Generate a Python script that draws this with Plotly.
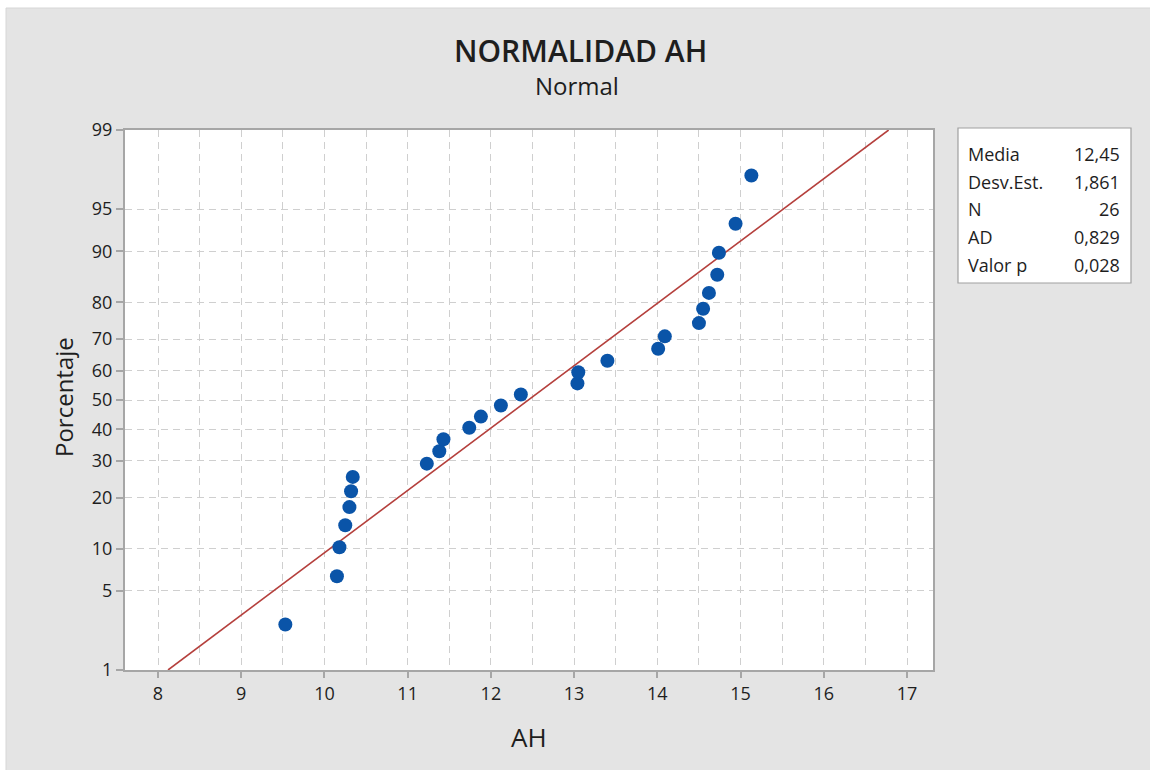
import plotly.graph_objects as go
from statistics import NormalDist

# ---------------- data ----------------
ah_values = [9.53, 10.15, 10.18, 10.25, 10.30, 10.32, 10.34, 11.23, 11.38, 11.43,
             11.74, 11.88, 12.12, 12.36, 13.04, 13.05, 13.40, 14.01, 14.09, 14.50,
             14.55, 14.62, 14.72, 14.74, 14.94, 15.13]
pct_ticks = [1, 5, 10, 20, 30, 40, 50, 60, 70, 80, 90, 95, 99]
x_ticks = [8, 9, 10, 11, 12, 13, 14, 15, 16, 17]
stat_labels = ["Media", "Desv.Est.", "N", "AD", "Valor p"]
stat_values = ["12,45", "1,861", "26", "0,829", "0,028"]
mean_fit = 12.45
sd_fit = 1.861

nd = NormalDist()
n = len(ah_values)
xs = sorted(ah_values)
# Minitab median-rank plotting positions
zs = [nd.inv_cdf((i + 1 - 0.3) / (n + 0.4)) for i in range(n)]
pct_z = [nd.inv_cdf(p / 100) for p in pct_ticks]
line_z = [pct_z[0], pct_z[-1]]
line_x = [mean_fit + sd_fit * z for z in line_z]

# ---------------- layout geometry (pixels) ----------------
W, H = 1150, 770
L, R, T, B = 125, 933, 130, 670
pw, ph = R - L, B - T


def px(x):
    return (x - L) / pw


def py(y):
    return (B - y) / ph


FONT = "Open Sans"
TXT = "#1e1e1e"
GRID = "#cfcfcf"
AXIS = "#a6a6a6"

fig = go.Figure()
fig.add_trace(go.Scatter(x=line_x, y=line_z, mode="lines",
                         line=dict(color="#b5403d", width=1.6),
                         hoverinfo="skip", showlegend=False))
fig.add_trace(go.Scatter(x=xs, y=zs, mode="markers",
                         marker=dict(color="#0a54a8", size=14, line=dict(width=0)),
                         showlegend=False))

x_min = 8 - (158 - L) / 83.22
x_max = 17 + (R - 907) / 83.22

tickfont = dict(family=FONT, size=18, color=TXT, weight=500)

fig.update_xaxes(range=[x_min, x_max], tickvals=x_ticks, ticktext=[str(v) for v in x_ticks],
                 showgrid=True, gridcolor=GRID, gridwidth=1.3, griddash="7px,5px",
                 minor=dict(dtick=0.5, tick0=0, showgrid=True, gridcolor=GRID, gridwidth=1.3,
                            griddash="7px,5px", ticks=""),
                 showline=True, linecolor=AXIS, linewidth=2, mirror=True,
                 ticks="outside", ticklen=6, tickcolor=AXIS, tickwidth=1.5,
                 tickfont=tickfont, zeroline=False)
fig.update_yaxes(range=line_z, tickvals=pct_z, ticktext=[str(p) for p in pct_ticks],
                 showgrid=True, gridcolor=GRID, gridwidth=1.3, griddash="7px,5px",
                 showline=True, linecolor=AXIS, linewidth=2, mirror=True,
                 ticks="outside", ticklen=7, tickcolor=AXIS, tickwidth=1.5,
                 tickfont=tickfont, zeroline=False)

shapes = [
    # grey page with thin white top/left border
    dict(type="rect", xref="paper", yref="paper", layer="below",
         x0=px(6), x1=px(W + 5), y0=py(H + 5), y1=py(8),
         fillcolor="#e4e4e4", line=dict(color="#d6d6d6", width=1)),
    dict(type="rect", xref="paper", yref="paper", layer="below",
         x0=0, x1=1, y0=0, y1=1, fillcolor="white", line=dict(width=0)),
    # stats box
    dict(type="rect", xref="paper", yref="paper",
         x0=px(958), x1=px(1131), y0=py(283), y1=py(128),
         fillcolor="white", line=dict(color="#a0a0a0", width=1.2)),
]

annotations = [
    dict(text="NORMALIDAD AH", x=px(580), y=py(50), xref="paper", yref="paper",
         showarrow=False, xanchor="center", yanchor="middle",
         font=dict(family=FONT, size=30, color=TXT, weight=600)),
    dict(text="Normal", x=px(577), y=py(85), xref="paper", yref="paper",
         showarrow=False, xanchor="center", yanchor="middle",
         font=dict(family=FONT, size=24, color=TXT, weight=500)),
    dict(text="AH", x=px(529), y=py(737), xref="paper", yref="paper",
         showarrow=False, xanchor="center", yanchor="middle",
         font=dict(family=FONT, size=26, color=TXT, weight=500)),
    dict(text="Porcentaje", x=px(63), y=py(397), xref="paper", yref="paper",
         showarrow=False, xanchor="center", yanchor="middle", textangle=-90,
         font=dict(family=FONT, size=24, color=TXT, weight=500)),
]
row_y = [154, 182, 209, 237, 265]
for lab, val, yy in zip(stat_labels, stat_values, row_y):
    annotations.append(dict(text=lab, x=px(966), y=py(yy), xref="paper", yref="paper",
                            showarrow=False, xanchor="left", yanchor="middle",
                            font=dict(family=FONT, size=18, color=TXT, weight=500)))
    annotations.append(dict(text=val, x=px(1122), y=py(yy), xref="paper", yref="paper",
                            showarrow=False, xanchor="right", yanchor="middle",
                            font=dict(family=FONT, size=18, color=TXT, weight=500)))

fig.update_layout(width=W, height=H, autosize=False,
                  margin=dict(l=L, r=W - R, t=T, b=H - B, pad=0),
                  paper_bgcolor="white", plot_bgcolor="white",
                  shapes=shapes, annotations=annotations, showlegend=False)

fig.write_html("out.html")
